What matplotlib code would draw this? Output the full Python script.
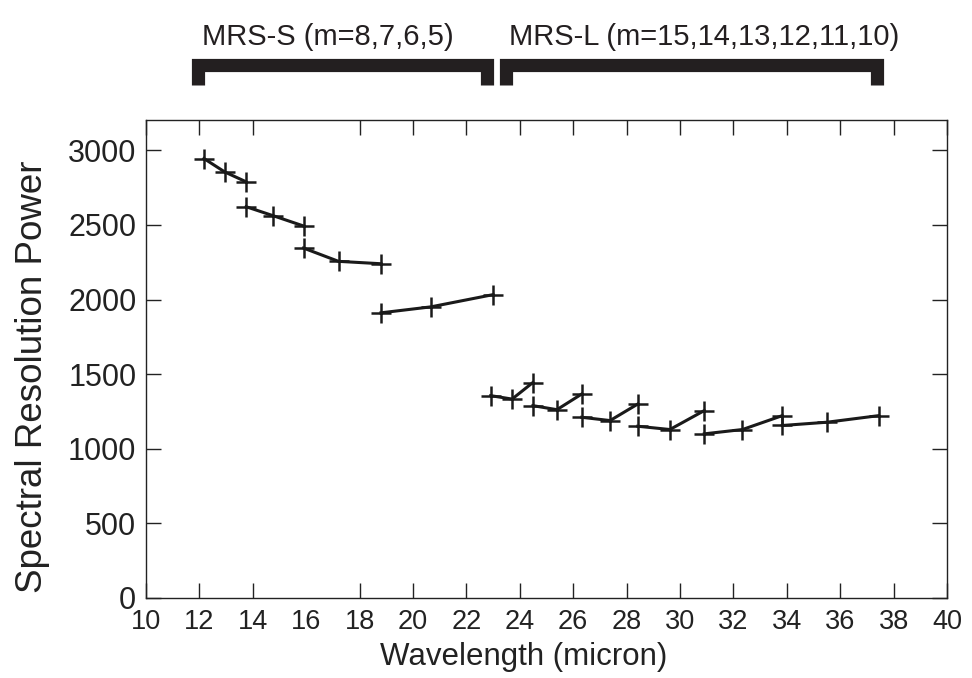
import matplotlib
matplotlib.use("Agg")
import matplotlib.pyplot as plt
import matplotlib.transforms as mtransforms

# Data: each segment is one grating order
mrs_s_wave = [
    [12.17, 12.95, 13.75],
    [13.75, 14.76, 15.90],
    [15.90, 17.21, 18.80],
    [18.80, 20.67, 23.00],
]
mrs_s_power = [
    [2945, 2855, 2789],
    [2622, 2562, 2493],
    [2345, 2256, 2240],
    [1911, 1951, 2033],
]
mrs_l_wave = [
    [22.91, 23.71, 24.49],
    [24.49, 25.39, 26.32],
    [26.32, 27.38, 28.42],
    [28.42, 29.62, 30.91],
    [30.91, 32.34, 33.83],
    [33.83, 35.51, 37.44],
]
mrs_l_power = [
    [1356, 1333, 1444],
    [1289, 1262, 1367],
    [1211, 1189, 1300],
    [1151, 1129, 1256],
    [1100, 1129, 1222],
    [1156, 1178, 1222],
]
x_ticks = list(range(10, 41, 2))
y_ticks = [0, 500, 1000, 1500, 2000, 2500, 3000]
bracket_labels = ["MRS-S (m=8,7,6,5)", "MRS-L (m=15,14,13,12,11,10)"]
bracket_ranges = [(11.95, 22.78), (23.49, 37.39)]

FONT = "Liberation Sans"

fig = plt.figure(figsize=(9.72, 6.78), dpi=100)
ax = fig.add_axes([0.1502, 0.118, 0.8241, 0.7043])

for waves, powers in zip(mrs_s_wave + mrs_l_wave, mrs_s_power + mrs_l_power):
    ax.plot(waves, powers, color="#1a1a1a", lw=2.2, marker="+", ms=14, mew=1.8)

ax.set_xlim(10, 40)
ax.set_ylim(0, 3200)
ax.set_xticks(x_ticks)
ax.set_yticks(y_ticks)
ax.tick_params(direction="in", length=11, width=1.0, top=True, right=True,
               color="#222222")
ax.tick_params(axis="x", labelsize=19.5, pad=8)
ax.tick_params(axis="y", labelsize=22, pad=7)
for lab in ax.get_xticklabels() + ax.get_yticklabels():
    lab.set_fontfamily(FONT)
    lab.set_color("#222222")
# the reference has no tick mark at 16
for t in ax.xaxis.get_major_ticks():
    if abs(t.get_loc() - 16) < 1e-6:
        t.tick1line.set_visible(False)
        t.tick2line.set_visible(False)
for s in ax.spines.values():
    s.set_linewidth(1.0)
    s.set_color("#222222")

ax.set_xlabel("Wavelength (micron)", fontsize=22.5, family=FONT, color="#222222")
ax.xaxis.set_label_coords(0.472, -0.093)
ax.set_ylabel("Spectral Resolution Power", fontsize=26.5, family=FONT, color="#222222")
ax.yaxis.set_label_coords(-0.12, 0.464)

trans = mtransforms.blended_transform_factory(ax.transData, ax.transAxes)
y_bar = 1.1152
y_leg = 1.0743
for (x0, x1), label in zip(bracket_ranges, bracket_labels):
    ax.plot([x0, x0, x1, x1], [y_leg, y_bar, y_bar, y_leg], transform=trans,
            color="#231f20", lw=9.5, solid_joinstyle="miter", solid_capstyle="butt",
            clip_on=False)
text_x = [(328 - 146) / 26.69 + 10, (704 - 146) / 26.69 + 10]
for tx, label in zip(text_x, bracket_labels):
    ax.text(tx, 1.158, label, transform=trans, ha="center", va="baseline",
            fontsize=21, family=FONT, color="#231f20")

fig.savefig("out.png", dpi=100)
